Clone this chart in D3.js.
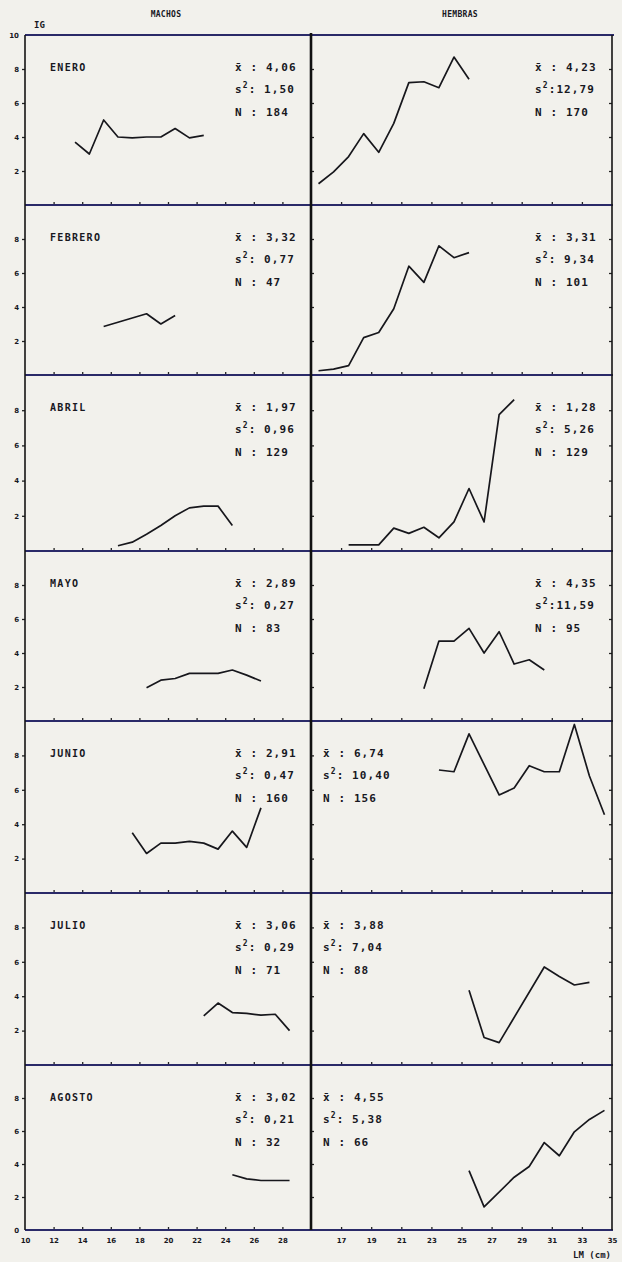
<!DOCTYPE html>
<html>
<head>
<meta charset="utf-8">
<script src="https://cdn.jsdelivr.net/npm/d3@7"></script>
<style>
  html, body { margin: 0; padding: 0; background: #f2f1ec; }
  svg { display: block; }
  text { font-family: "DejaVu Sans Mono", monospace; font-weight: bold; fill: #18181f; }
</style>
</head>
<body>
<svg id="chart" width="622" height="1262"></svg>
<script>
// ---------------- DATA ----------------
const months = ["ENERO", "FEBRERO", "ABRIL", "MAYO", "JUNIO", "JULIO", "AGOSTO"];

// Males: length class mid-points (LM, cm) and gonadosomatic index (IG)
const maleLM = [
  [13.5, 14.5, 15.5, 16.5, 17.5, 18.5, 19.5, 20.5, 21.5, 22.5],
  [15.5, 16.5, 17.5, 18.5, 19.5, 20.5],
  [16.5, 17.5, 18.5, 19.5, 20.5, 21.5, 22.5, 23.5, 24.5],
  [18.5, 19.5, 20.5, 21.5, 22.5, 23.5, 24.5, 25.5, 26.5],
  [17.5, 18.5, 19.5, 20.5, 21.5, 22.5, 23.5, 24.5, 25.5, 26.5],
  [22.5, 23.5, 24.5, 25.5, 26.5, 27.5, 28.5],
  [24.5, 25.5, 26.5, 27.5, 28.5]
];
const maleIG = [
  [3.7, 3.0, 5.0, 4.0, 3.95, 4.0, 4.0, 4.5, 3.95, 4.1],
  [2.85, 3.1, 3.35, 3.6, 3.0, 3.5],
  [0.3, 0.5, 0.95, 1.45, 2.0, 2.45, 2.55, 2.55, 1.45],
  [1.95, 2.4, 2.5, 2.8, 2.8, 2.8, 3.0, 2.7, 2.35],
  [3.5, 2.3, 2.9, 2.9, 3.0, 2.9, 2.55, 3.6, 2.65, 4.95],
  [2.85, 3.6, 3.05, 3.0, 2.9, 2.95, 2.0],
  [3.35, 3.1, 3.0, 3.0, 3.0]
];

// Females
const femaleLM = [
  [15.5, 16.5, 17.5, 18.5, 19.5, 20.5, 21.5, 22.5, 23.5, 24.5, 25.5],
  [15.5, 16.5, 17.5, 18.5, 19.5, 20.5, 21.5, 22.5, 23.5, 24.5, 25.5],
  [17.5, 18.5, 19.5, 20.5, 21.5, 22.5, 23.5, 24.5, 25.5, 26.5, 27.5, 28.5],
  [22.5, 23.5, 24.5, 25.5, 26.5, 27.5, 28.5, 29.5, 30.5],
  [23.5, 24.5, 25.5, 27.5, 28.5, 29.5, 30.5, 31.5, 32.5, 33.5, 34.5],
  [25.5, 26.5, 27.5, 30.5, 31.5, 32.5, 33.5],
  [25.5, 26.5, 28.5, 29.5, 30.5, 31.5, 32.5, 33.5, 34.5]
];
const femaleIG = [
  [1.25, 1.95, 2.85, 4.2, 3.1, 4.8, 7.2, 7.25, 6.9, 8.7, 7.4],
  [0.25, 0.35, 0.55, 2.2, 2.5, 3.9, 6.4, 5.45, 7.6, 6.9, 7.2],
  [0.35, 0.35, 0.35, 1.3, 1.0, 1.35, 0.75, 1.65, 3.55, 1.65, 7.75, 8.6],
  [1.9, 4.7, 4.7, 5.45, 4.0, 5.25, 3.35, 3.6, 3.0],
  [7.15, 7.05, 9.25, 5.7, 6.1, 7.4, 7.05, 7.05, 9.8, 6.8, 4.55],
  [4.35, 1.6, 1.3, 5.7, 5.15, 4.65, 4.8],
  [3.6, 1.4, 3.2, 3.85, 5.3, 4.5, 5.95, 6.7, 7.25]
];

// Statistics printed in each panel
const maleMean = ["4,06", "3,32", "1,97", "2,89", "2,91", "3,06", "3,02"];
const maleVar  = ["1,50", "0,77", "0,96", "0,27", "0,47", "0,29", "0,21"];
const maleN    = ["184", "47", "129", "83", "160", "71", "32"];
const femaleMean = ["4,23", "3,31", "1,28", "4,35", "6,74", "3,88", "4,55"];
const femaleVar  = ["12,79", "9,34", "5,26", "11,59", "10,40", "7,04", "5,38"];
const femaleN    = ["170", "101", "129", "95", "156", "88", "66"];

// Axis ticks
const yTicks = [2, 4, 6, 8];
const maleTicks = [10, 12, 14, 16, 18, 20, 22, 24, 26, 28];
const femaleTicks = [17, 19, 21, 23, 25, 27, 29, 31, 33, 35];

// ---------------- LAYOUT ----------------
const svg = d3.select("#chart");
const rowEdges = [35, 205, 375, 551, 721, 893, 1065, 1230];
const xLeft = 25, xMid = 311, xRight = 612;
const xM = d3.scaleLinear().domain([10, 30]).range([xLeft, xMid]);
const xF = d3.scaleLinear().domain([15, 35]).range([xMid, xRight]);
const frameColor = "#2a2a68";
const femaleStatsAtLeft = [false, false, false, false, true, true, true];

// header
svg.append("text").attr("x", 34).attr("y", 28).attr("font-size", 9).text("IG");
svg.append("text").attr("x", 166).attr("y", 17).attr("font-size", 8).attr("text-anchor", "middle")
  .attr("letter-spacing", 0.3).text("MACHOS");
svg.append("text").attr("x", 460).attr("y", 17).attr("font-size", 8).attr("text-anchor", "middle")
  .attr("letter-spacing", 0.3).text("HEMBRAS");

months.forEach((m, i) => {
  const top = rowEdges[i], bottom = rowEdges[i + 1];
  const y = d3.scaleLinear().domain([0, 10]).range([bottom, top]);
  const g = svg.append("g");

  // left y axis ticks & labels
  const yAxisL = d3.axisLeft(y).tickValues(yTicks).tickSize(3).tickFormat(d3.format("d"));
  const ga = g.append("g").attr("transform", `translate(${xLeft},0)`).call(yAxisL);
  ga.select(".domain").remove();
  ga.selectAll("line").attr("stroke", "#222").attr("stroke-width", 1.3);
  ga.selectAll("text").attr("font-size", 7).attr("x", -6)
    .style("font-family", "DejaVu Sans, sans-serif").style("font-weight", "bold").attr("fill", "#18181f");

  // small ticks on divider and right edge
  const yAxisMid = d3.axisRight(y).tickValues(yTicks).tickSize(3).tickFormat("");
  const gm = g.append("g").attr("transform", `translate(${xMid},0)`).call(yAxisMid);
  gm.select(".domain").remove();
  gm.selectAll("line").attr("stroke", "#222").attr("stroke-width", 1.3);
  const yAxisR = d3.axisLeft(y).tickValues(yTicks).tickSize(3).tickFormat("");
  const gr = g.append("g").attr("transform", `translate(${xRight},0)`).call(yAxisR);
  gr.select(".domain").remove();
  gr.selectAll("line").attr("stroke", "#222").attr("stroke-width", 1.3);

  // x ticks along the row bottom
  const xAxM = d3.axisTop(xM).tickValues(maleTicks.slice(1)).tickSize(3).tickFormat("");
  const gxm = g.append("g").attr("transform", `translate(0,${bottom})`).call(xAxM);
  gxm.select(".domain").remove();
  gxm.selectAll("line").attr("stroke", "#222").attr("stroke-width", 1.3);
  const xAxF = d3.axisTop(xF).tickValues(femaleTicks.slice(0, -1)).tickSize(3).tickFormat("");
  const gxf = g.append("g").attr("transform", `translate(0,${bottom})`).call(xAxF);
  gxf.select(".domain").remove();
  gxf.selectAll("line").attr("stroke", "#222").attr("stroke-width", 1.3);

  // row bottom line
  g.append("line").attr("x1", xLeft).attr("x2", xRight + 1).attr("y1", bottom).attr("y2", bottom)
    .attr("stroke", frameColor).attr("stroke-width", 2.2);

  // data lines
  const line = (xs) => d3.line().x(d => xs(d[0])).y(d => y(d[1]));
  g.append("path")
    .datum(d3.zip(maleLM[i], maleIG[i]))
    .attr("d", line(xM))
    .attr("fill", "none").attr("stroke", "#17171c").attr("stroke-width", 1.7)
    .attr("stroke-linejoin", "round");
  g.append("path")
    .datum(d3.zip(femaleLM[i], femaleIG[i]))
    .attr("d", line(xF))
    .attr("fill", "none").attr("stroke", "#17171c").attr("stroke-width", 1.7)
    .attr("stroke-linejoin", "round");

  // month label
  g.append("text").attr("x", 50).attr("y", top + 36).attr("font-size", 10)
    .attr("letter-spacing", 1.3).text(m);

  // stats
  const statBlock = (x0, mean, vr, n, spaced) => {
    const t1 = g.append("text").attr("x", x0).attr("y", top + 36).attr("font-size", 11).attr("letter-spacing", 1.1);
    t1.text("x\u0304 : " + mean);
    const t2 = g.append("text").attr("x", x0).attr("y", top + 58).attr("font-size", 11).attr("letter-spacing", 1.1);
    t2.append("tspan").text("s");
    t2.append("tspan").attr("dy", -5).attr("font-size", 8).text("2");
    t2.append("tspan").attr("dy", 5).text(":" + (vr.length > 4 && !spaced ? "" : " ") + vr);
    const t3 = g.append("text").attr("x", x0).attr("y", top + 81).attr("font-size", 11).attr("letter-spacing", 1.1);
    t3.text("N : " + n);
  };
  statBlock(235, maleMean[i], maleVar[i], maleN[i], false);
  statBlock(femaleStatsAtLeft[i] ? 323 : 535, femaleMean[i], femaleVar[i], femaleN[i], femaleStatsAtLeft[i]);
});

// top frame line
svg.append("line").attr("x1", xLeft).attr("x2", xRight + 2).attr("y1", rowEdges[0]).attr("y2", rowEdges[0])
  .attr("stroke", frameColor).attr("stroke-width", 2.2);
// vertical lines
svg.append("line").attr("x1", xLeft).attr("x2", xLeft).attr("y1", rowEdges[0]).attr("y2", rowEdges[7])
  .attr("stroke", "#151515").attr("stroke-width", 1.6);
svg.append("line").attr("x1", xMid).attr("x2", xMid).attr("y1", rowEdges[0] - 2).attr("y2", rowEdges[7])
  .attr("stroke", "#111").attr("stroke-width", 2.6);
svg.append("line").attr("x1", xRight).attr("x2", xRight).attr("y1", rowEdges[0]).attr("y2", rowEdges[7])
  .attr("stroke", "#151515").attr("stroke-width", 1.6);

// top "10" and bottom "0" labels
svg.append("text").attr("x", 19).attr("y", rowEdges[0] + 2.5).attr("font-size", 7).attr("text-anchor", "end")
  .style("font-family", "DejaVu Sans, sans-serif").text("10");
svg.append("text").attr("x", 19).attr("y", rowEdges[7] + 2.5).attr("font-size", 7).attr("text-anchor", "end")
  .style("font-family", "DejaVu Sans, sans-serif").text("0");

// bottom axis labels
const bottomY = rowEdges[7];
const gbM = svg.append("g").attr("transform", `translate(0,${bottomY})`)
  .call(d3.axisBottom(xM).tickValues(maleTicks).tickSize(0).tickPadding(8).tickFormat(d3.format("d")));
gbM.select(".domain").remove();
gbM.selectAll("text").attr("font-size", 7).style("font-family", "DejaVu Sans, sans-serif")
  .style("font-weight", "bold").attr("fill", "#18181f");
const gbF = svg.append("g").attr("transform", `translate(0,${bottomY})`)
  .call(d3.axisBottom(xF).tickValues(femaleTicks).tickSize(0).tickPadding(8).tickFormat(d3.format("d")));
gbF.select(".domain").remove();
gbF.selectAll("text").attr("font-size", 7).style("font-family", "DejaVu Sans, sans-serif")
  .style("font-weight", "bold").attr("fill", "#18181f");

svg.append("text").attr("x", 611).attr("y", 1258).attr("font-size", 9).attr("text-anchor", "end")
  .text("LM (cm)");
</script>
</body>
</html>
